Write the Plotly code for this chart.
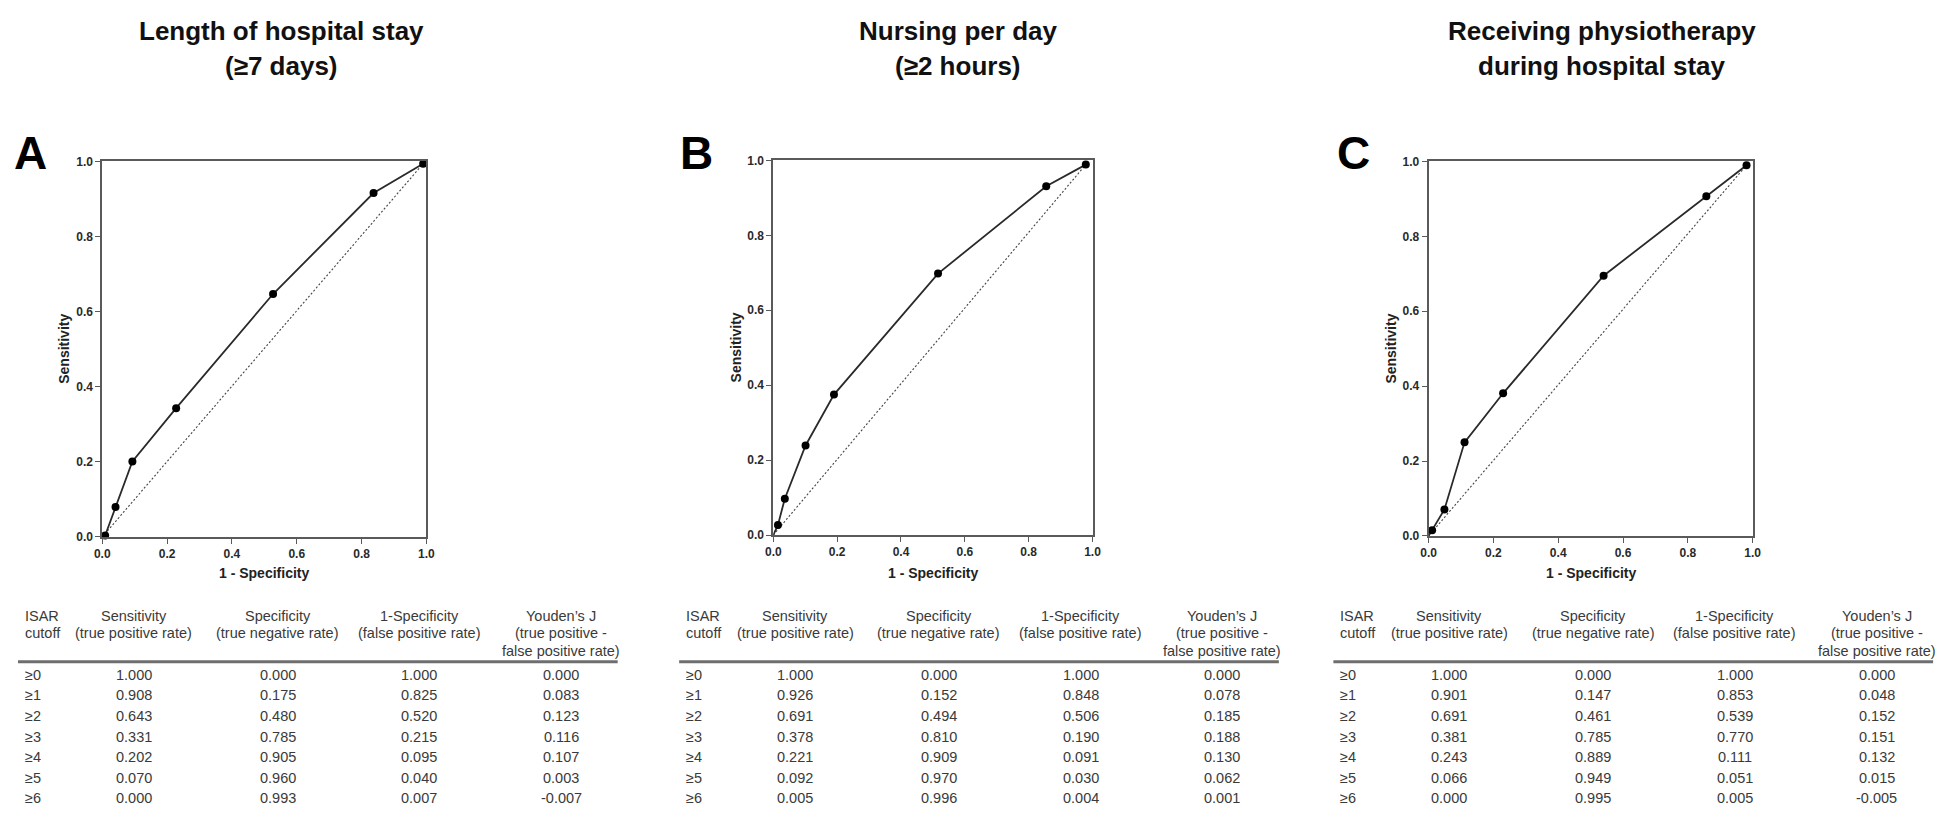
import plotly.graph_objects as go

W, H = 1946, 823

# ---------------- data ----------------
panel_letters = ["A", "B", "C"]
titles = [["Length of hospital stay", "(≥7 days)"],
          ["Nursing per day", "(≥2 hours)"],
          ["Receiving physiotherapy", "during hospital stay"]]

# ROC points as drawn in the picture (1 - specificity, sensitivity)
roc_a_x = [0.990, 0.837, 0.527, 0.228, 0.093, 0.041, 0.009]
roc_a_y = [0.994, 0.916, 0.647, 0.343, 0.201, 0.080, 0.004]
roc_b_x = [0.979, 0.855, 0.516, 0.190, 0.101, 0.036, 0.0145]
roc_b_y = [0.989, 0.931, 0.698, 0.375, 0.239, 0.097, 0.027]
roc_c_x = [0.981, 0.857, 0.540, 0.230, 0.111, 0.049, 0.011]
roc_c_y = [0.990, 0.907, 0.695, 0.381, 0.250, 0.071, 0.015]
roc_origin = [0.0]

axis_ticks = [0.0, 0.2, 0.4, 0.6, 0.8, 1.0]
tick_labels = ["0.0", "0.2", "0.4", "0.6", "0.8", "1.0"]

cutoffs = ["≥0", "≥1", "≥2", "≥3", "≥4", "≥5", "≥6"]
header_cols = [["ISAR", "cutoff"],
               ["Sensitivity", "(true positive rate)"],
               ["Specificity", "(true negative rate)"],
               ["1-Specificity", "(false positive rate)"],
               ["Youden’s J", "(true positive -", "false positive rate)"]]

sens_a = [1.000, 0.908, 0.643, 0.331, 0.202, 0.070, 0.000]
spec_a = [0.000, 0.175, 0.480, 0.785, 0.905, 0.960, 0.993]
fpr_a = [1.000, 0.825, 0.520, 0.215, 0.095, 0.040, 0.007]
youden_a = [0.000, 0.083, 0.123, 0.116, 0.107, 0.003, -0.007]

sens_b = [1.000, 0.926, 0.691, 0.378, 0.221, 0.092, 0.005]
spec_b = [0.000, 0.152, 0.494, 0.810, 0.909, 0.970, 0.996]
fpr_b = [1.000, 0.848, 0.506, 0.190, 0.091, 0.030, 0.004]
youden_b = [0.000, 0.078, 0.185, 0.188, 0.130, 0.062, 0.001]

sens_c = [1.000, 0.901, 0.691, 0.381, 0.243, 0.066, 0.000]
spec_c = [0.000, 0.147, 0.461, 0.785, 0.889, 0.949, 0.995]
fpr_c = [1.000, 0.853, 0.539, 0.770, 0.111, 0.051, 0.005]
youden_c = [0.000, 0.048, 0.152, 0.151, 0.132, 0.015, -0.005]

# ---------------- layout geometry (pixels) ----------------
boxes = [(87, 414, 149, 531), (764, 1086, 148, 529), (1425, 1752, 149, 530)]
title_cx = [268, 950, 1600]
title_y = [16, 52]
letter_cx = [15, 686, 1349]
letter_y = 140
table_x0 = [7, 674, 1334]
col_off = [0, 112, 257, 400, 543]
table_line = (-5, 600)
header_y = [611, 629, 647]
divider_y = 658
row_y = [671, 692, 713, 734, 755, 776, 797]
xlabel_y = 568

def px(x):
    return x / W

def py(y):
    return 1 - y / H

fig = go.Figure()
curves = [(roc_a_x, roc_a_y), (roc_b_x, roc_b_y), (roc_c_x, roc_c_y)]
tables = [(sens_a, spec_a, fpr_a, youden_a),
          (sens_b, spec_b, fpr_b, youden_b),
          (sens_c, spec_c, fpr_c, youden_c)]

annotations = []
shapes = []
LINEGRAY = "#5a5a5a"
TICKFONT = dict(family="Liberation Sans, Arial", size=12, color="#2a2a2a")
TITLEFONT = "Liberation Sans, Arial"

for i, (cx, cy) in enumerate(curves):
    xa = "x" if i == 0 else f"x{i+1}"
    ya = "y" if i == 0 else f"y{i+1}"
    # chance diagonal from origin to the top ROC point
    fig.add_trace(go.Scatter(x=roc_origin + [cx[0]], y=roc_origin + [cy[0]], mode="lines",
                             line=dict(color="#444444", width=1.1, dash="2px,2px"),
                             xaxis=xa, yaxis=ya, showlegend=False, hoverinfo="skip"))
    fig.add_trace(go.Scatter(x=cx + roc_origin, y=cy + roc_origin, mode="lines",
                             line=dict(color="#2a2a2a", width=1.8),
                             xaxis=xa, yaxis=ya, showlegend=False, cliponaxis=False))
    fig.add_trace(go.Scatter(x=cx, y=cy, mode="markers",
                             marker=dict(color="#000000", size=8),
                             xaxis=xa, yaxis=ya, showlegend=False, cliponaxis=False))

    x0, x1, y0, y1 = boxes[i]
    axis_common = dict(range=[0, 1], showgrid=False, zeroline=False, showline=True,
                       linecolor=LINEGRAY, linewidth=1.8, mirror=True, ticks="outside",
                       ticklen=5, tickwidth=1.3, tickcolor=LINEGRAY, tickvals=axis_ticks,
                       ticktext=[f"<b>{t}</b>" for t in tick_labels], tickfont=TICKFONT,
                       fixedrange=True)
    fig.update_layout(**{
        ("xaxis" if i == 0 else f"xaxis{i+1}"): dict(domain=[px(x0), px(x1)], anchor=ya, **axis_common),
        ("yaxis" if i == 0 else f"yaxis{i+1}"): dict(domain=[py(y1), py(y0)], anchor=xa, **axis_common),
    })

    # axis titles
    annotations.append(dict(x=px((x0 + x1) / 2), y=py(xlabel_y), xref="paper", yref="paper",
                            text="<b>1 - Specificity</b>", showarrow=False,
                            font=dict(family="Liberation Sans, Arial", size=14, color="#222222"),
                            xanchor="center", yanchor="middle"))
    annotations.append(dict(x=px(x0 - 38), y=py((y0 + y1) / 2), xref="paper", yref="paper",
                            text="<b>Sensitivity</b>", showarrow=False, textangle=-90,
                            font=dict(family="Liberation Sans, Arial", size=14, color="#222222"),
                            xanchor="center", yanchor="middle"))
    # panel titles
    for j, ty in enumerate(title_y):
        annotations.append(dict(x=px(title_cx[i]), y=py(ty), xref="paper", yref="paper",
                                text=f"<b>{titles[i][j]}</b>", showarrow=False,
                                font=dict(family=TITLEFONT, size=26, color="#111111"),
                                xanchor="center", yanchor="middle"))
    # panel letter
    annotations.append(dict(x=px(letter_cx[i]), y=py(letter_y), xref="paper", yref="paper",
                            text=f"<b>{panel_letters[i]}</b>", showarrow=False,
                            font=dict(family="Liberation Sans, Arial", size=46, color="#000000"),
                            xanchor="center", yanchor="middle"))

    # table
    tx = table_x0[i]
    tfont = dict(family="Liberation Sans, Arial", size=14.5, color="#3a3a3a")
    for c, lines in enumerate(header_cols):
        for k, txt in enumerate(lines):
            annotations.append(dict(x=px(tx + col_off[c]), y=py(header_y[k]), xref="paper", yref="paper",
                                    text=txt, showarrow=False, font=tfont,
                                    xanchor="left" if c == 0 else "center", yanchor="middle"))
    shapes.append(dict(type="line", xref="paper", yref="paper",
                       x0=px(tx + table_line[0]), x1=px(min(tx + table_line[1], W)),
                       y0=py(divider_y), y1=py(divider_y),
                       line=dict(color="#6e6e6e", width=3)))
    cols = tables[i]
    for r, cut in enumerate(cutoffs):
        annotations.append(dict(x=px(tx), y=py(row_y[r]), xref="paper", yref="paper",
                                text=cut, showarrow=False, font=tfont, xanchor="left", yanchor="middle"))
        for c, vals in enumerate(cols):
            annotations.append(dict(x=px(tx + col_off[c + 1]), y=py(row_y[r]), xref="paper", yref="paper",
                                    text=f"{vals[r]:.3f}", showarrow=False, font=tfont,
                                    xanchor="center", yanchor="middle"))

fig.update_layout(width=W, height=H, margin=dict(l=0, r=0, t=0, b=0),
                  paper_bgcolor="white", plot_bgcolor="white",
                  annotations=annotations, shapes=shapes, showlegend=False)

fig.write_html("out.html", config={"displayModeBar": False})
